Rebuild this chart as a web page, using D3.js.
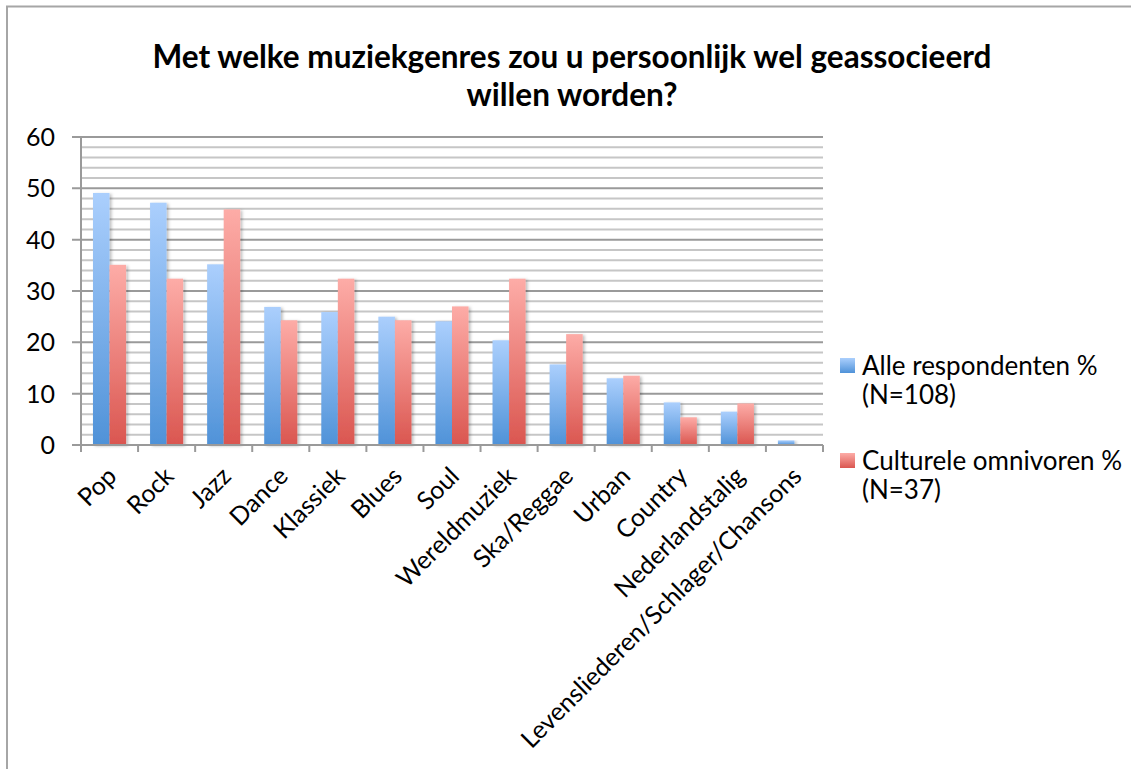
<!DOCTYPE html>
<html>
<head>
<meta charset="utf-8">
<script src="https://cdn.jsdelivr.net/npm/d3@7"></script>
<style>
  body { margin: 0; background: #fff; }
  svg text { font-family: Lato, "Open Sans", sans-serif; fill: #000; }
</style>
</head>
<body>
<svg id="chart" width="1131" height="769"></svg>
<script>
// Music genre association chart: two grouped series, Excel-style gradient bars.

const genres = ["Pop", "Rock", "Jazz", "Dance", "Klassiek", "Blues", "Soul",
    "Wereldmuziek", "Ska/Reggae", "Urban", "Country", "Nederlandstalig",
    "Levensliederen/Schlager/Chansons"];
const alleRespondenten = [49.1, 47.2, 35.2, 26.9, 25.9, 25.0, 24.1, 20.4, 15.7, 13.0, 8.3, 6.5, 0.9];
const omnivoren = [35.1, 32.4, 45.9, 24.3, 32.4, 24.3, 27.0, 32.4, 21.6, 13.5, 5.4, 8.1, 0];
const seriesNames = [["Alle respondenten %", "(N=108)"], ["Culturele omnivoren %", "(N=37)"]];
const yTicks = [0, 10, 20, 30, 40, 50, 60];

const svg = d3.select("#chart");
const margin = { left: 81, right: 308, top: 137, bottom: 324 };
const W = 1131, H = 769;

// outer frame (runs off the right and bottom edges like the screenshot)
svg.append("rect")
    .attr("x", 7).attr("y", 6.5).attr("width", 1200).attr("height", 900)
    .attr("fill", "none").attr("stroke", "#a6a6a6").attr("stroke-width", 2);

// gradients
const defs = svg.append("defs");
function grad(id, top, bottom) {
    const g = defs.append("linearGradient").attr("id", id)
        .attr("x1", 0).attr("y1", 0).attr("x2", 0).attr("y2", 1);
    g.append("stop").attr("offset", "0%").attr("stop-color", top);
    g.append("stop").attr("offset", "100%").attr("stop-color", bottom);
}
grad("gBlue", "#abcffd", "#4f92d8");
grad("gRed", "#fdaca7", "#da5650");
const shadow = defs.append("filter").attr("id", "shadow")
    .attr("x", "-20%").attr("y", "-5%").attr("width", "160%").attr("height", "115%");
shadow.append("feDropShadow").attr("dx", 2).attr("dy", 1).attr("stdDeviation", 1.5)
    .attr("flood-color", "#000").attr("flood-opacity", 0.25);

const x = d3.scaleBand().domain(genres)
    .range([margin.left, W - margin.right]).paddingInner(0.42).paddingOuter(0.21);
const xSub = d3.scaleBand().domain([0, 1]).range([0, x.bandwidth()]);
const y = d3.scaleLinear().domain([0, 60]).range([H - margin.bottom, margin.top]);

// minor + major gridlines
const minor = d3.range(0, 61, 2).filter(v => v % 10 !== 0);
svg.append("g").selectAll("line").data(minor).join("line")
    .attr("x1", margin.left).attr("x2", W - margin.right)
    .attr("y1", d => y(d)).attr("y2", d => y(d))
    .attr("stroke", "#c6c6c6").attr("stroke-width", 2);
svg.append("g").selectAll("line").data(yTicks).join("line")
    .attr("x1", margin.left - 9).attr("x2", W - margin.right)
    .attr("y1", d => y(d)).attr("y2", d => y(d))
    .attr("stroke", "#9a9a9a").attr("stroke-width", 2);

// y axis line + labels
svg.append("line")
    .attr("x1", margin.left).attr("x2", margin.left)
    .attr("y1", y(60)).attr("y2", y(0) + 6)
    .attr("stroke", "#9a9a9a").attr("stroke-width", 2);
svg.append("g").selectAll("text").data(yTicks).join("text")
    .attr("x", 55).attr("y", d => y(d)).attr("dy", "0.36em")
    .attr("text-anchor", "end").style("font-size", "25px")
    .text(d => d);

// category boundary ticks
const step = x.step();
svg.append("g").selectAll("line").data(d3.range(genres.length + 1)).join("line")
    .attr("x1", i => margin.left + i * step).attr("x2", i => margin.left + i * step)
    .attr("y1", y(0)).attr("y2", y(0) + 7)
    .attr("stroke", "#9a9a9a").attr("stroke-width", 2);

// bars
const rows = genres.map((g, i) => ({ g, vals: [alleRespondenten[i], omnivoren[i]] }));
const grp = svg.append("g").selectAll("g").data(rows).join("g")
    .attr("transform", d => `translate(${x(d.g)},0)`);
grp.selectAll("rect").data(d => d.vals.map((v, k) => ({ v, k })).filter(d => d.v > 0))
    .join("rect")
    .attr("x", d => xSub(d.k))
    .attr("width", xSub.bandwidth())
    .attr("y", d => y(d.v))
    .attr("height", d => y(0) - y(d.v))
    .attr("fill", d => d.k === 0 ? "url(#gBlue)" : "url(#gRed)")
    .attr("filter", "url(#shadow)");

// category labels, rotated -45
svg.append("g").selectAll("text").data(genres).join("text")
    .attr("transform", d => `translate(${x(d) + x.bandwidth() / 2 - 4},${y(0) + 20}) rotate(-45)`)
    .attr("text-anchor", "end").attr("dy", "0.72em")
    .style("font-size", "25px")
    .text(d => d);

// x axis baseline
svg.append("line")
    .attr("x1", margin.left).attr("x2", W - margin.right)
    .attr("y1", y(0)).attr("y2", y(0))
    .attr("stroke", "#9a9a9a").attr("stroke-width", 2);

// title
const title = svg.append("text").attr("text-anchor", "middle")
    .style("font-size", "31.5px").style("font-weight", "bold");
title.append("tspan").attr("x", 572).attr("y", 68)
    .text("Met welke muziekgenres zou u persoonlijk wel geassocieerd");
title.append("tspan").attr("x", 572).attr("y", 106).text("willen worden?");

// legend
const legend = svg.append("g").selectAll("g").data(seriesNames).join("g")
    .attr("transform", (d, i) => `translate(840,${358 + i * 95})`);
legend.append("rect").attr("width", 15).attr("height", 15)
    .attr("fill", (d, i) => i === 0 ? "url(#gBlue)" : "url(#gRed)");
legend.append("text").attr("x", 22).attr("y", 17)
    .style("font-size", "26px")
    .selectAll("tspan").data(d => d).join("tspan")
    .attr("x", 22).attr("dy", (d, i) => i === 0 ? 0 : 29)
    .text(d => d);
</script>
</body>
</html>
